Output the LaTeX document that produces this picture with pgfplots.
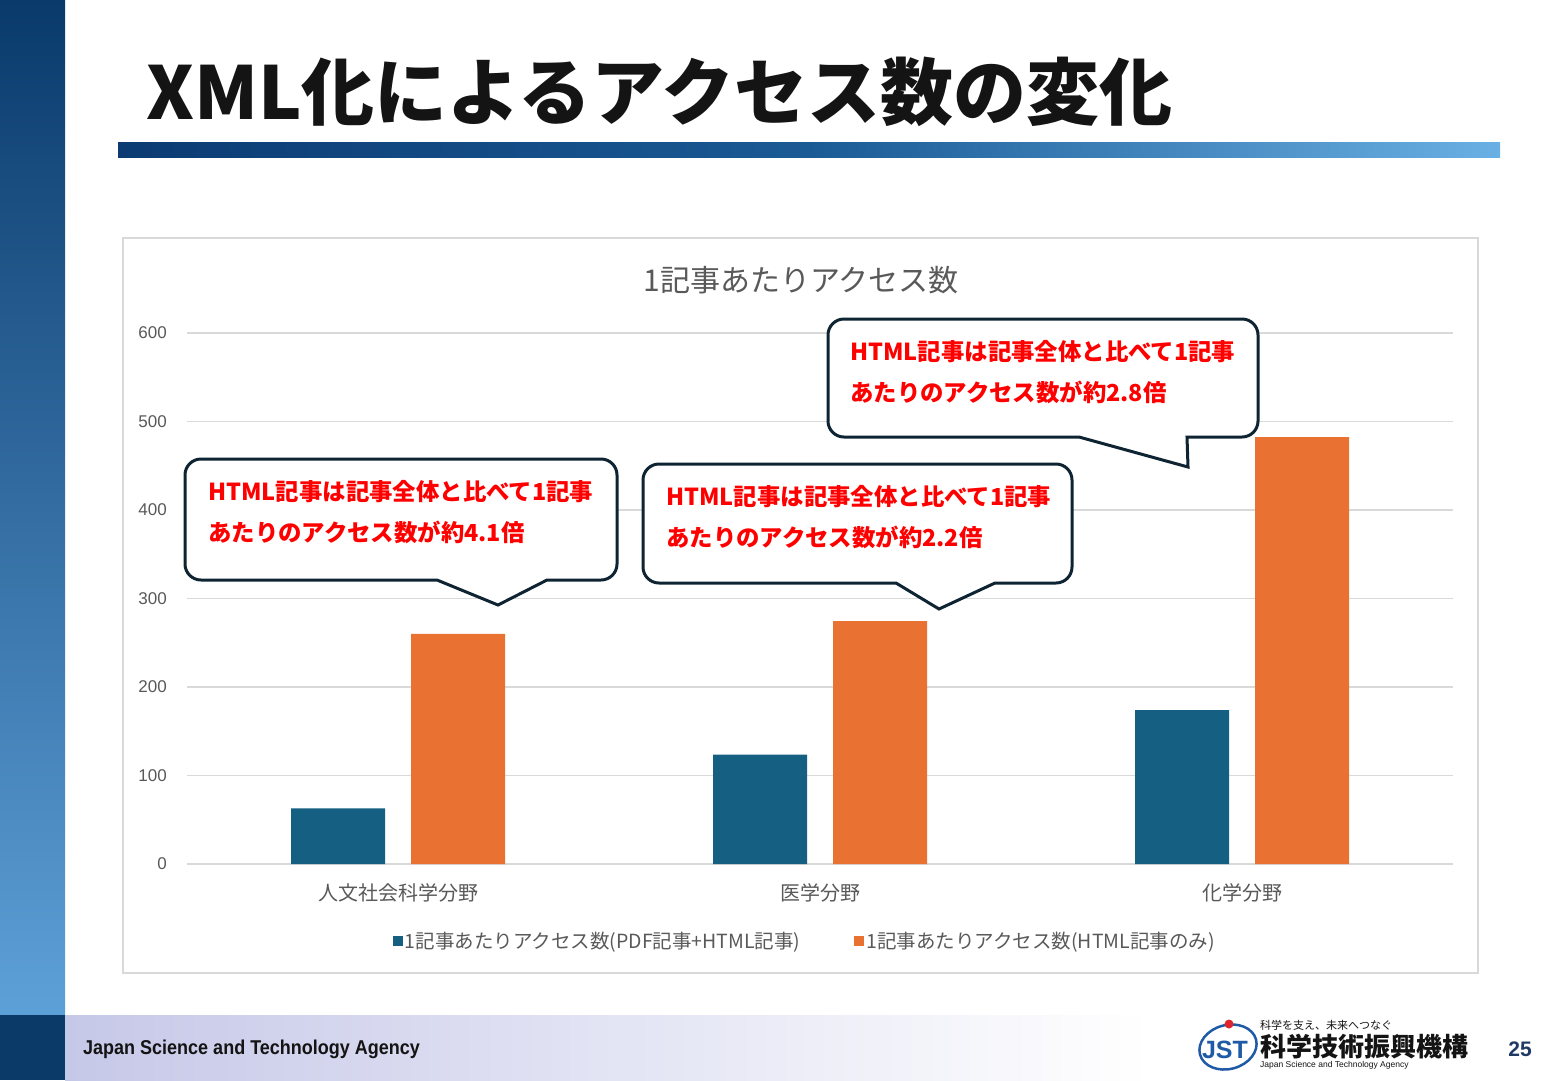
\documentclass[border=0pt]{standalone}
\usepackage{pgfplots}
\pgfplotsset{compat=1.18}
\usepackage{fontspec}
\setmainfont{Liberation Sans}
\newfontfamily\cjk{Noto Sans CJK JP}
\newfontfamily\narrowfont[FakeStretch=0.9]{Liberation Sans}
\definecolor{barblue}{HTML}{156082}
\definecolor{barorange}{HTML}{E97132}
\definecolor{gridgray}{HTML}{D9D9D9}
\definecolor{tickgray}{HTML}{595959}
\definecolor{sideTop}{HTML}{0A3A6C}
\definecolor{sideBot}{HTML}{5DA0D8}
\definecolor{sideDark}{HTML}{0B3A68}
\definecolor{footL}{HTML}{C6C8E8}
\definecolor{ulL}{HTML}{0C3B73}
\definecolor{ulM}{HTML}{1A5A95}
\definecolor{ulR}{HTML}{6AB0E4}
\definecolor{callline}{HTML}{0E2433}
\definecolor{titleblack}{HTML}{141414}
\definecolor{pagenum}{HTML}{1F3864}
\definecolor{jstblue}{HTML}{1F5AA6}
\definecolor{jstred}{HTML}{E0242B}
\begin{document}
\begin{tikzpicture}[x=1pt,y=1pt]
\useasboundingbox (0,0) rectangle (1560,-1080);
\fill[white] (0,0) rectangle (1560,-1080);
% sidebar
\shade[top color=sideTop, bottom color=sideBot] (0,0) rectangle (65,-1015);
\fill[sideDark] (0,-1015) rectangle (65,-1080);
% footer band
\shade[left color=footL, right color=white] (65,-1015) rectangle (1150,-1080);
\node[anchor=west, inner sep=0, font=\narrowfont\bfseries\fontsize{20}{20}\selectfont, text=titleblack] at (83,-1049) {Japan Science and Technology Agency};
% title
\node[anchor=west, inner sep=0, font=\cjk\bfseries\fontsize{73}{73}\selectfont, text=titleblack] at (146,-92) {XML化によるアクセス数の変化};
\shade[left color=ulL, right color=ulR, middle color=ulM] (118,-142) rectangle (1500,-157);
% chart frame
\draw[gridgray, line width=1.5pt, fill=white] (123,-238) rectangle (1478,-973);
\node[font=\cjk\fontsize{30}{30}\selectfont, text=tickgray] at (801,-280) {1記事あたりアクセス数};
\begin{axis}[
  at={(187pt,-864pt)}, anchor=south west,
  width=1266pt, height=531pt, scale only axis,
  xmin=-0.5, xmax=2.5, ymin=0, ymax=600,
  ytick={0,100,200,300,400,500,600},
  xtick={0,1,2},
  xticklabels={人文社会科学分野,医学分野,化学分野},
  ymajorgrids, grid style={draw=gridgray, line width=1.5pt},
  axis line style={draw=none}, major tick style={draw=none},
  clip=false,
  /pgf/number format/assume math mode=true,
  yticklabel style={font=\fontsize{17}{17}\selectfont, text=tickgray, anchor=east, inner sep=0pt, xshift=-20pt},
  xticklabel style={font=\cjk\fontsize{20}{20}\selectfont, text=tickgray, anchor=center, inner sep=0pt, yshift=-25pt},
  ybar, bar width=94pt,
  legend columns=2,
  legend style={at={(0.488,-0.145)}, anchor=center, draw=none, fill=none,
    font=\cjk\fontsize{19.5}{19.5}\selectfont, text=tickgray,
    /tikz/every odd column/.append style={column sep=0pt},
    /tikz/every even column/.append style={column sep=52pt}},
  legend image code/.code={\fill[#1,draw=none] (0pt,-5pt) rectangle (10pt,5pt);},
]
\addplot[fill=barblue, draw=none, bar shift=-60pt] coordinates {(0,63) (1,123.5) (2,174)};
\addlegendentry{1記事あたりアクセス数(PDF記事+HTML記事)}
\addplot[fill=barorange, draw=none, bar shift=60pt] coordinates {(0,260) (1,274.5) (2,482.5)};
\addlegendentry{1記事あたりアクセス数(HTML記事のみ)}
\end{axis}
% callouts
\tikzset{callout/.style={draw=callline, line width=3pt, fill=white, line join=miter}}
\draw[callout] (437,-580) -- (201,-580) arc[start angle=270, end angle=180, radius=16] -- (185,-475) arc[start angle=180, end angle=90, radius=16] -- (601,-459) arc[start angle=90, end angle=0, radius=16] -- (617,-564) arc[start angle=0, end angle=-90, radius=16] -- (547,-580) -- (498,-605) -- cycle;
\draw[callout] (896,-583) -- (659,-583) arc[start angle=270, end angle=180, radius=16] -- (643,-480) arc[start angle=180, end angle=90, radius=16] -- (1056,-464) arc[start angle=90, end angle=0, radius=16] -- (1072,-567) arc[start angle=0, end angle=-90, radius=16] -- (995,-583) -- (939,-609) -- cycle;
\draw[callout] (1079,-437) -- (844,-437) arc[start angle=270, end angle=180, radius=16] -- (828,-335) arc[start angle=180, end angle=90, radius=16] -- (1242,-319) arc[start angle=90, end angle=0, radius=16] -- (1258,-421) arc[start angle=0, end angle=-90, radius=16] -- (1187,-437) -- (1188,-467) -- cycle;
\tikzset{calltext/.style={anchor=west, inner sep=0pt, text=red, font=\cjk\bfseries\fontsize{23.4}{23.4}\selectfont}}
\node[calltext] at (208,-492) {HTML記事は記事全体と比べて1記事};
\node[calltext] at (208,-532) {あたりのアクセス数が約4.1倍};
\node[calltext] at (666,-497) {HTML記事は記事全体と比べて1記事};
\node[calltext] at (666,-537) {あたりのアクセス数が約2.2倍};
\node[calltext] at (850,-352) {HTML記事は記事全体と比べて1記事};
\node[calltext] at (850,-392) {あたりのアクセス数が約2.8倍};
% logo
\draw[jstblue, line width=2.5pt, rotate around={15:(1228,-1047)}] (1228,-1047) ellipse (29pt and 22pt);
\node[font=\bfseries\fontsize{25}{25}\selectfont, text=jstblue, inner sep=0] at (1225,-1050) {JST};
\fill[jstred] (1229,-1024) circle (4.5pt);
\node[anchor=west, inner sep=0, font=\cjk\fontsize{11}{11}\selectfont, text=titleblack] at (1260,-1025) {科学を支え、未来へつなぐ};
\node[anchor=west, inner sep=0, font=\cjk\bfseries\fontsize{26}{26}\selectfont, text=titleblack] at (1260,-1047) {科学技術振興機構};
\node[anchor=west, inner sep=0, font=\fontsize{8.5}{8.5}\selectfont, text=titleblack] at (1260,-1065) {Japan Science and Technology Agency};
\node[inner sep=0, font=\bfseries\fontsize{21}{21}\selectfont, text=pagenum] at (1520,-1049) {25};
\end{tikzpicture}
\end{document}
